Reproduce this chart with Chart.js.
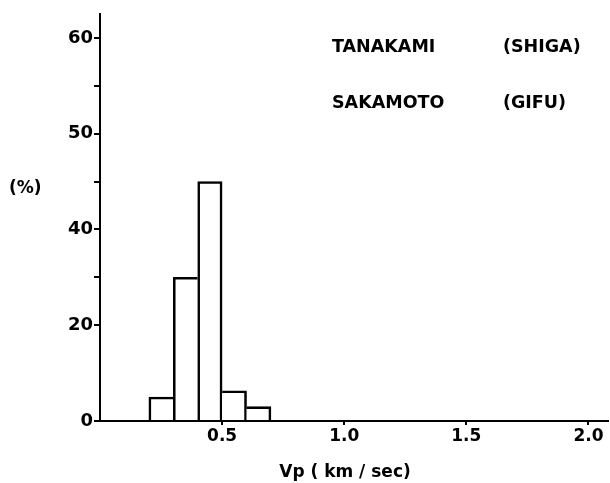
<!DOCTYPE html>
<html>
<head>
<meta charset="utf-8">
<script src="https://cdn.jsdelivr.net/npm/chart.js@4.4.1/dist/chart.umd.min.js"></script>
<style>
  html, body { margin: 0; padding: 0; background: #fff; }
  #wrap { width: 610px; height: 483px; position: relative; }
</style>
</head>
<body>
<div id="wrap"><canvas id="c"></canvas></div>
<script>
// ---- data ----
const BIN_CENTERS = [0.25, 0.35, 0.45, 0.55, 0.65];   // Vp bins (km/sec)
const PERCENT     = [5, 30, 45, 6.3, 3];             // frequency (%)
const X_TICKS = [0.5, 1.0, 1.5, 2.0];
const Y_TICK_VALUES = [0, 20, 30, 40, 45, 50, 55, 60];
const Y_TICK_LABELS = ['0', '20', '', '40', '', '50', '', '60'];
// the printed y axis is not evenly numbered: label value -> tick-interval index
const Y_KNOT_VALUES = [0, 20, 40, 50, 60, 62.5];
const Y_KNOT_STEPS  = [0, 2, 4, 6, 8, 8.5];
const LEGEND_NAMES  = ['TANAKAMI', 'SAKAMOTO'];
const LEGEND_PLACES = ['(SHIGA)', '(GIFU)'];
const X_TITLE = 'Vp ( km / sec)';
const Y_TITLE = '(%)';

function interp(v, xs, ys) {
  if (v <= xs[0]) return ys[0];
  for (let i = 1; i < xs.length; i++) {
    if (v <= xs[i]) {
      const t = (v - xs[i - 1]) / (xs[i] - xs[i - 1]);
      return ys[i - 1] + t * (ys[i] - ys[i - 1]);
    }
  }
  return ys[ys.length - 1];
}
const STEP_MAX = Y_KNOT_STEPS[Y_KNOT_STEPS.length - 1];

class PiecewiseScale extends Chart.LinearScale {
  getPixelForValue(value) {
    return this.getPixelForDecimal(interp(value, Y_KNOT_VALUES, Y_KNOT_STEPS) / STEP_MAX);
  }
  getValueForPixel(pixel) {
    return interp(this.getDecimalForPixel(pixel) * STEP_MAX, Y_KNOT_STEPS, Y_KNOT_VALUES);
  }
}
PiecewiseScale.id = 'piecewise';
PiecewiseScale.defaults = Chart.LinearScale.defaults;
Chart.register(PiecewiseScale);

Chart.defaults.font.family = '"DejaVu Sans", sans-serif';
Chart.defaults.font.weight = 'bold';
Chart.defaults.color = '#000';

const LW = 2.6;
// shared edges drawn once: the shorter of two neighbouring bars drops its side
function barBorder(ctx) {
  const i = ctx.dataIndex;
  const v = PERCENT[i];
  const left = (i > 0 && PERCENT[i - 1] >= v) ? 0 : LW;
  const right = (i < PERCENT.length - 1 && PERCENT[i + 1] > v) ? 0 : LW;
  return { top: LW, left: left, right: right, bottom: 0 };
}

const textPlugin = {
  id: 'texts',
  afterDraw(chart) {
    const ctx = chart.ctx;
    ctx.save();
    ctx.fillStyle = '#000';
    ctx.textBaseline = 'alphabetic';
    ctx.textAlign = 'left';
    ctx.font = 'bold 17.5px "DejaVu Sans", sans-serif';
    const rows = [52, 108];
    LEGEND_NAMES.forEach((t, i) => ctx.fillText(t, 332, rows[i]));
    LEGEND_PLACES.forEach((t, i) => ctx.fillText(t, 503, rows[i]));
    ctx.font = 'bold 17px "DejaVu Sans", sans-serif';
    ctx.fillText(Y_TITLE, 9, 193);
    ctx.textAlign = 'center';
    ctx.fillText(X_TITLE, 345, 477);
    ctx.restore();
  }
};

new Chart(document.getElementById('c'), {
  type: 'bar',
  data: {
    datasets: [{
      data: BIN_CENTERS.map((x, i) => ({ x: x, y: PERCENT[i] })),
      backgroundColor: '#fff',
      borderColor: '#000',
      borderWidth: barBorder,
      borderSkipped: false,
      barPercentage: 1,
      categoryPercentage: 1
    }]
  },
  options: {
    responsive: true,
    maintainAspectRatio: false,
    animation: false,
    layout: { padding: { top: 14, right: 2, left: 0, bottom: 0 } },
    plugins: { legend: { display: false }, tooltip: { enabled: false } },
    scales: {
      x: {
        type: 'linear',
        min: 0,
        max: 2.08,
        offset: false,
        afterBuildTicks: s => { s.ticks = X_TICKS.map(v => ({ value: v })); },
        afterFit: s => { s.height = 62; },
        ticks: {
          callback: v => v.toFixed(1),
          font: { size: 17, weight: 'bold' },
          padding: 1,
          maxRotation: 0,
          autoSkip: false
        },
        grid: { display: true, offset: false, drawOnChartArea: false, drawTicks: true, tickLength: 4, color: '#000', lineWidth: 2 },
        border: { display: true, color: '#000', width: 2 },
        title: { display: false }
      },
      y: {
        type: 'piecewise',
        min: 0,
        max: 62.5,
        afterBuildTicks: s => { s.ticks = Y_TICK_VALUES.map(v => ({ value: v })); },
        afterFit: s => { s.width = 100; },
        ticks: {
          callback: (v, i) => Y_TICK_LABELS[i],
          font: { size: 18, weight: 'bold' },
          padding: 1,
          autoSkip: false
        },
        grid: { display: true, drawOnChartArea: false, drawTicks: true, tickLength: 6, color: '#000', lineWidth: 2 },
        border: { display: true, color: '#000', width: 2 }
      }
    }
  },
  plugins: [textPlugin]
});
</script>
</body>
</html>
